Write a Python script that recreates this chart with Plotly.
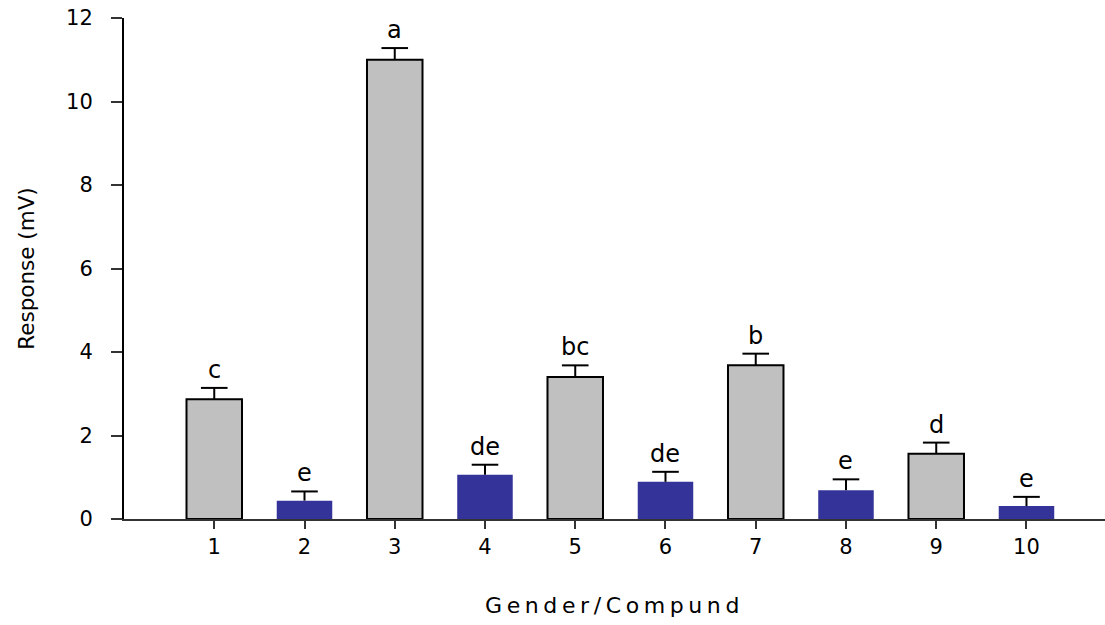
import plotly.graph_objects as go

categories = [1, 2, 3, 4, 5, 6, 7, 8, 9, 10]
means = [2.87, 0.44, 11.0, 1.06, 3.40, 0.89, 3.68, 0.69, 1.56, 0.31]
errors = [0.27, 0.22, 0.28, 0.24, 0.28, 0.24, 0.28, 0.26, 0.27, 0.22]
letters = ["c", "e", "a", "de", "bc", "de", "b", "e", "d", "e"]
groups = ["grey", "blue", "grey", "blue", "grey", "blue", "grey", "blue", "grey", "blue"]
y_ticks = [0, 2, 4, 6, 8, 10, 12]

GREY = "#C0C0C0"
BLUE = "#333399"
FONT = "DejaVu Sans, Verdana, sans-serif"

fig = go.Figure()

for grp, color, lw in [("grey", GREY, 2), ("blue", BLUE, 0)]:
    xs = [c for c, g in zip(categories, groups) if g == grp]
    ys = [m for m, g in zip(means, groups) if g == grp]
    es = [e for e, g in zip(errors, groups) if g == grp]
    fig.add_trace(go.Bar(
        x=xs, y=ys, width=0.615,
        marker=dict(color=color, line=dict(color="black", width=lw)),
        error_y=dict(type="data", array=es, arrayminus=[0] * len(es), symmetric=False,
                     color="black", thickness=2, width=0),
        showlegend=False, hoverinfo="skip",
    ))

# error-bar caps (top only)
fig.add_trace(go.Scatter(
    x=categories, y=[m + e for m, e in zip(means, errors)], mode="markers",
    marker=dict(symbol="line-ew", size=19, line=dict(color="black", width=2)),
    showlegend=False, hoverinfo="skip",
))

for c, m, e, t in zip(categories, means, errors, letters):
    fig.add_annotation(x=c, y=m + e, text=t, showarrow=False, yanchor="bottom",
                       yshift=2, font=dict(family=FONT, size=24, color="black"))

fig.update_layout(
    width=1105, height=625,
    margin=dict(l=124, r=0, t=18, b=106),
    plot_bgcolor="white", paper_bgcolor="white",
    font=dict(family=FONT, color="black"),
)

fig.update_xaxes(
    range=[0, 10.87], tickmode="array", tickvals=categories,
    ticktext=[str(c) for c in categories],
    showgrid=False, zeroline=False,
    showline=True, linecolor="#333333", linewidth=1.5,
    ticks="outside", ticklen=8, tickwidth=2, tickcolor="#333333",
    tickfont=dict(family=FONT, size=21, color="black"),
    title=dict(text='<span style="letter-spacing:4.6px">Gender/Compund</span>',
               font=dict(family=FONT, size=22, color="black"), standoff=40),
)

fig.update_yaxes(
    range=[0, 12], tickmode="array", tickvals=y_ticks,
    showgrid=False, zeroline=False,
    showline=True, linecolor="black", linewidth=2,
    ticks="outside", ticklen=11, tickwidth=1.5, tickcolor="#333333",
    ticklabelstandoff=14,
    tickfont=dict(family=FONT, size=21, color="black"),
    title=dict(text="Response (mV)", font=dict(family=FONT, size=21.5, color="black"),
               standoff=26),
)

fig.write_html("out.html")
